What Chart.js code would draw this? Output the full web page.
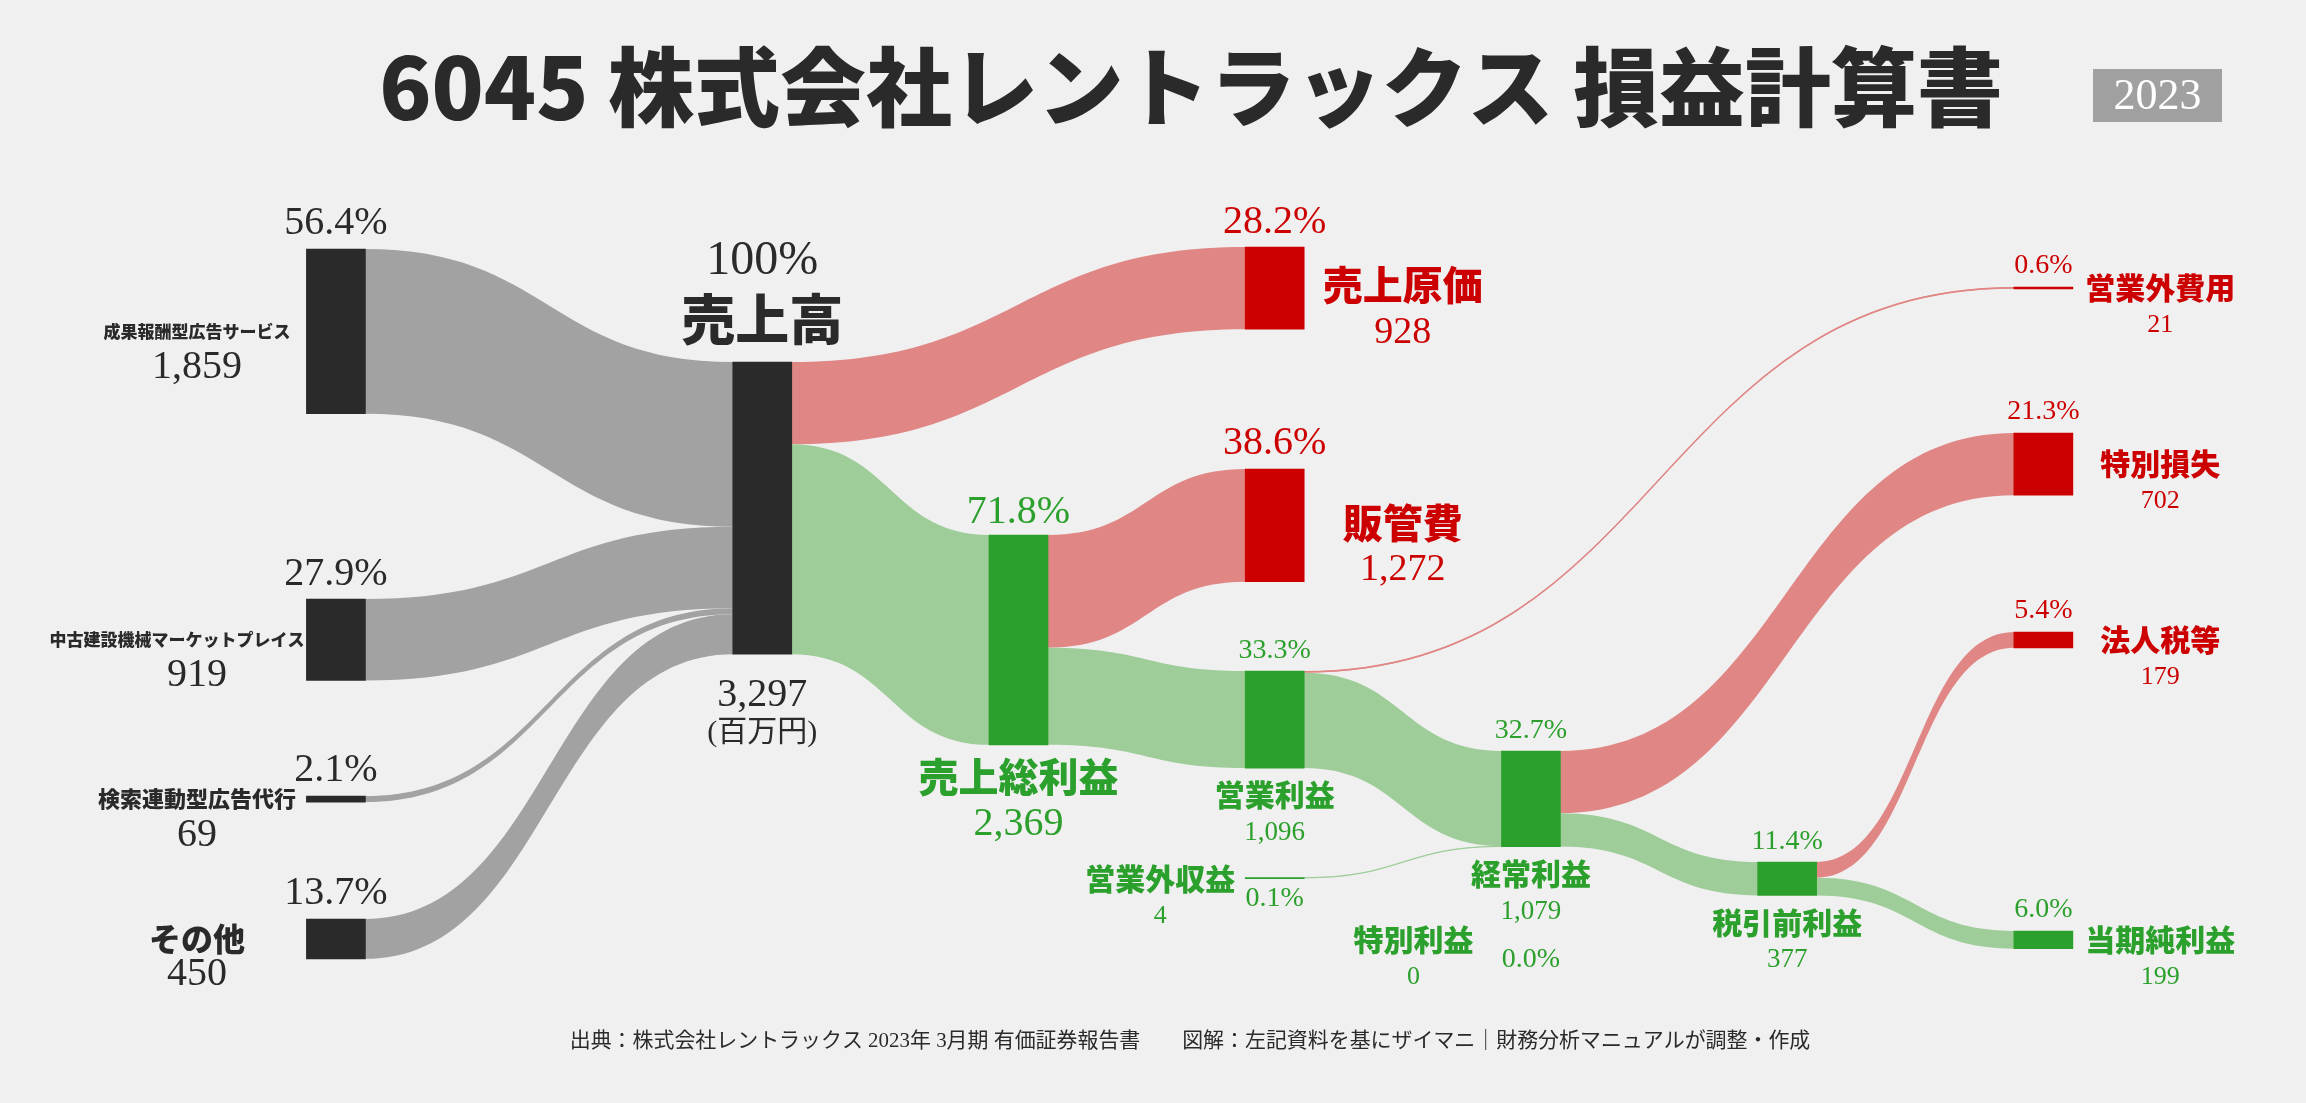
<!DOCTYPE html>
<html>
<head>
<meta charset="utf-8">
<script src="https://cdn.jsdelivr.net/npm/chart.js@4.4.0/dist/chart.umd.min.js"></script>
<style>
html, body { margin: 0; padding: 0; background: #f0f0f0; }
canvas { display: block; }
</style>
</head>
<body>
<canvas id="sankey" width="2306" height="1103"></canvas>
<script>
// ==================== Data (百万円) ====================
const TITLE = '6045 株式会社レントラックス 損益計算書';
const YEAR = '2023';
const SOURCE_NOTE = '出典：株式会社レントラックス 2023年 3月期 有価証券報告書　　図解：左記資料を基にザイマニ｜財務分析マニュアルが調整・作成';

const NODE_NAMES = [
    '成果報酬型広告サービス', '中古建設機械マーケットプレイス', '検索連動型広告代行', 'その他',
    '売上高', '売上原価', '売上総利益', '販管費', '営業利益',
    '営業外収益', '営業外費用', '経常利益', '特別利益', '特別損失',
    '税引前利益', '法人税等', '当期純利益'
];
const NODE_VALUES = [1859, 919, 69, 450, 3297, 928, 2369, 1272, 1096, 4, 21, 1079, 0, 702, 377, 179, 199];
const NODE_PCT = ['56.4%', '27.9%', '2.1%', '13.7%', '100%', '28.2%', '71.8%', '38.6%', '33.3%',
    '0.1%', '0.6%', '32.7%', '0.0%', '21.3%', '11.4%', '5.4%', '6.0%'];
const NODE_KIND = ['src', 'src', 'src', 'src', 'total', 'cost', 'profit', 'cost', 'profit',
    'profit', 'cost', 'profit', 'profit', 'cost', 'profit', 'cost', 'profit'];

const LINK_SOURCE = [0, 1, 2, 3, 4, 4, 6, 6, 8, 8, 9, 12, 11, 11, 14, 14];
const LINK_TARGET = [4, 4, 4, 4, 5, 6, 7, 8, 10, 11, 11, 11, 13, 14, 15, 16];
const LINK_VALUE = [1859, 919, 69, 450, 928, 2369, 1272, 1096, 21, 1075, 4, 0, 702, 377, 179, 199];

// ==================== Layout ====================
// column of each node on the x scale, offset of each node top on the y scale (百万円 units)
const NODE_COL = [1.336, 1.336, 1.336, 1.336, 3, 5, 4, 5, 5, 5, 8, 6, 6, 8, 7, 8, 8];
const NODE_TOP = [2810, 6761, 8984, 10372, 4086, 2788, 6038, 5293, 7573, 9906, 3239, 8476, 10609, 4887, 9729, 7133, 10508];
const PX_PER_UNIT = 0.0886;
const Y_MAX = 1103 / PX_PER_UNIT;
const NODE_W = 59;

// label placement per node
const LABELS = [
    { mode: 'src', font: 17 }, { mode: 'src', font: 17 }, { mode: 'src', font: 22 }, { mode: 'src', font: 32 },
    { mode: 'total' },
    { mode: 'right', big: true }, { mode: 'below', big: true }, { mode: 'right', big: true }, { mode: 'below' },
    { mode: 'inleft', dx: 10 }, { mode: 'right' }, { mode: 'below' }, { mode: 'inleft', dx: 28 }, { mode: 'right' },
    { mode: 'below' }, { mode: 'right' }, { mode: 'right' }
];

const SANS = "'Noto Sans CJK JP', 'Noto Sans', sans-serif";
const SERIF = "'Liberation Serif', 'DejaVu Serif', 'Noto Sans CJK JP', serif";
const BG = '#f0f0f0';
const NODE_COLOR = { src: '#2a2a2a', total: '#2a2a2a', cost: '#cc0000', profit: '#2ca02c' };
const LINK_COLOR = { total: '#a2a2a2', cost: '#e08786', profit: '#9ecd9a' };
const TEXT_COLOR = { src: '#2a2a2a', total: '#2a2a2a', cost: '#cc0000', profit: '#2ca02c' };

function fmt(v) {
    return v.toLocaleString('en-US');
}

function nodeBox(meta, i) {
    const bar = meta.data[i];
    const top = Math.min(bar.y, bar.base);
    const bottom = Math.max(bar.y, bar.base);
    return { cx: bar.x, left: bar.x - NODE_W / 2, right: bar.x + NODE_W / 2, top, bottom, mid: (top + bottom) / 2 };
}

function text(ctx, str, x, y, font, color, align) {
    ctx.font = font;
    ctx.fillStyle = color;
    ctx.textAlign = align || 'center';
    ctx.textBaseline = 'middle';
    ctx.fillText(str, x, y);
}

function fitFont(ctx, str, weight, family, width) {
    ctx.font = `${weight} 100px ${family}`;
    return 100 * width / ctx.measureText(str).width;
}

const sankeyPlugin = {
    id: 'sankey',
    beforeDraw(chart) {
        const ctx = chart.ctx;
        ctx.save();
        ctx.fillStyle = BG;
        ctx.fillRect(0, 0, chart.width, chart.height);
        ctx.restore();
    },
    beforeDatasetsDraw(chart) {
        // flows between nodes
        const ctx = chart.ctx;
        const y = chart.scales.y;
        const outOff = NODE_NAMES.map(() => 0);
        const inOff = NODE_NAMES.map(() => 0);
        const meta = chart.getDatasetMeta(0);
        ctx.save();
        LINK_VALUE.forEach((v, k) => {
            const s = LINK_SOURCE[k];
            const t = LINK_TARGET[k];
            const sb = nodeBox(meta, s);
            const tb = nodeBox(meta, t);
            const y0a = y.getPixelForValue(NODE_TOP[s] + outOff[s]);
            const y0b = y.getPixelForValue(NODE_TOP[s] + outOff[s] + v);
            const y1a = y.getPixelForValue(NODE_TOP[t] + inOff[t]);
            const y1b = y.getPixelForValue(NODE_TOP[t] + inOff[t] + v);
            outOff[s] += v;
            inOff[t] += v;
            if (v <= 0) return;
            const x0 = sb.right - 0.5;
            const x1 = tb.left + 0.5;
            const xm = (x0 + x1) / 2;
            const color = LINK_COLOR[NODE_KIND[t]];
            ctx.fillStyle = color;
            ctx.beginPath();
            ctx.moveTo(x0, y0a);
            ctx.bezierCurveTo(xm, y0a, xm, y1a, x1, y1a);
            ctx.lineTo(x1, y1b);
            ctx.bezierCurveTo(xm, y1b, xm, y0b, x0, y0b);
            ctx.closePath();
            ctx.fill();
            if (y0b - y0a < 2) {
                ctx.strokeStyle = color;
                ctx.lineWidth = 1.2;
                ctx.beginPath();
                ctx.moveTo(x0, (y0a + y0b) / 2);
                ctx.bezierCurveTo(xm, (y0a + y0b) / 2, xm, (y1a + y1b) / 2, x1, (y1a + y1b) / 2);
                ctx.stroke();
            }
        });
        ctx.restore();
    },
    afterDatasetsDraw(chart) {
        const ctx = chart.ctx;
        const meta = chart.getDatasetMeta(0);
        ctx.save();
        NODE_NAMES.forEach((name, i) => {
            const b = nodeBox(meta, i);
            const lab = LABELS[i];
            const color = TEXT_COLOR[NODE_KIND[i]];
            const val = fmt(NODE_VALUES[i]);
            const pctBig = `40px ${SERIF}`;
            const pctSmall = `28px ${SERIF}`;
            if (lab.mode === 'src') {
                text(ctx, NODE_PCT[i], b.cx, b.top - 25, pctBig, color);
                ctx.font = `900 ${lab.font}px ${SANS}`;
                const w = ctx.measureText(name).width;
                const nx = Math.min(b.cx - 139, b.left - 2 - w / 2);
                text(ctx, name, nx, b.mid, ctx.font, color);
                text(ctx, val, b.cx - 139, b.mid + 36, pctBig, color);
            } else if (lab.mode === 'total') {
                text(ctx, NODE_PCT[i], b.cx, b.top - 101, `48px ${SERIF}`, color);
                text(ctx, name, b.cx, b.top - 43, `900 54px ${SANS}`, color);
                text(ctx, val, b.cx, b.bottom + 41, `40px ${SERIF}`, color);
                text(ctx, '(百万円)', b.cx, b.bottom + 79, `30px ${SERIF}`, color);
            } else if (lab.mode === 'right') {
                if (lab.big) {
                    text(ctx, NODE_PCT[i], b.cx, b.top - 25, pctBig, color);
                    text(ctx, name, b.cx + 128, b.mid - 3, `900 40px ${SANS}`, color);
                    text(ctx, val, b.cx + 128, b.mid + 45, `38px ${SERIF}`, color);
                } else {
                    text(ctx, NODE_PCT[i], b.cx, b.top - 21, pctSmall, color);
                    text(ctx, name, b.cx + 117, b.mid, `900 30px ${SANS}`, color);
                    text(ctx, val, b.cx + 117, b.mid + 37, `26px ${SERIF}`, color);
                }
            } else if (lab.mode === 'below') {
                if (lab.big) {
                    text(ctx, NODE_PCT[i], b.cx, b.top - 22, pctBig, color);
                    text(ctx, name, b.cx, b.bottom + 32, `900 40px ${SANS}`, color);
                    text(ctx, val, b.cx, b.bottom + 80, `40px ${SERIF}`, color);
                } else {
                    text(ctx, NODE_PCT[i], b.cx, b.top - 20, pctSmall, color);
                    text(ctx, name, b.cx, b.bottom + 27, `900 30px ${SANS}`, color);
                    text(ctx, val, b.cx, b.bottom + 65, `27px ${SERIF}`, color);
                }
            } else if (lab.mode === 'inleft') {
                ctx.font = `900 30px ${SANS}`;
                const w = ctx.measureText(name).width;
                const right = b.left - lab.dx;
                text(ctx, name, right - w / 2, b.mid, ctx.font, color);
                text(ctx, val, right - w / 2, b.mid + 38, `26px ${SERIF}`, color);
                text(ctx, NODE_PCT[i], b.cx, b.mid + 20, pctSmall, color);
            }
        });

        // title, year badge, source note
        const titleSize = fitFont(ctx, TITLE, 900, SANS, 1624);
        text(ctx, TITLE, 1191, 87, `900 ${titleSize}px ${SANS}`, '#2a2a2a');
        ctx.fillStyle = '#a0a0a0';
        ctx.fillRect(2093, 69, 129, 53);
        text(ctx, YEAR, 2157.5, 97, `44px ${SERIF}`, '#ffffff');
        const noteSize = fitFont(ctx, SOURCE_NOTE, 400, SERIF, 1241);
        text(ctx, SOURCE_NOTE, 1190, 1041, `${noteSize}px ${SERIF}`, '#2a2a2a');
        ctx.restore();
    }
};

const nodeData = NODE_NAMES.map((n, i) => ({ x: NODE_COL[i], y: [NODE_TOP[i], NODE_TOP[i] + NODE_VALUES[i]] }));
const nodeColors = NODE_NAMES.map((n, i) => NODE_VALUES[i] > 0 ? NODE_COLOR[NODE_KIND[i]] : 'rgba(0,0,0,0)');

new Chart(document.getElementById('sankey'), {
    type: 'bar',
    data: {
        datasets: [{
            data: nodeData,
            backgroundColor: nodeColors,
            borderWidth: 0,
            barThickness: NODE_W,
            minBarLength: 1
        }]
    },
    options: {
        responsive: false,
        animation: false,
        devicePixelRatio: 1,
        layout: { padding: 0 },
        events: [],
        plugins: {
            legend: { display: false },
            tooltip: { enabled: false }
        },
        scales: {
            x: { type: 'linear', min: 0.025, max: 9.025, offset: false, display: false },
            y: { type: 'linear', min: 0, max: Y_MAX, reverse: true, display: false }
        }
    },
    plugins: [sankeyPlugin]
});
</script>
</body>
</html>
